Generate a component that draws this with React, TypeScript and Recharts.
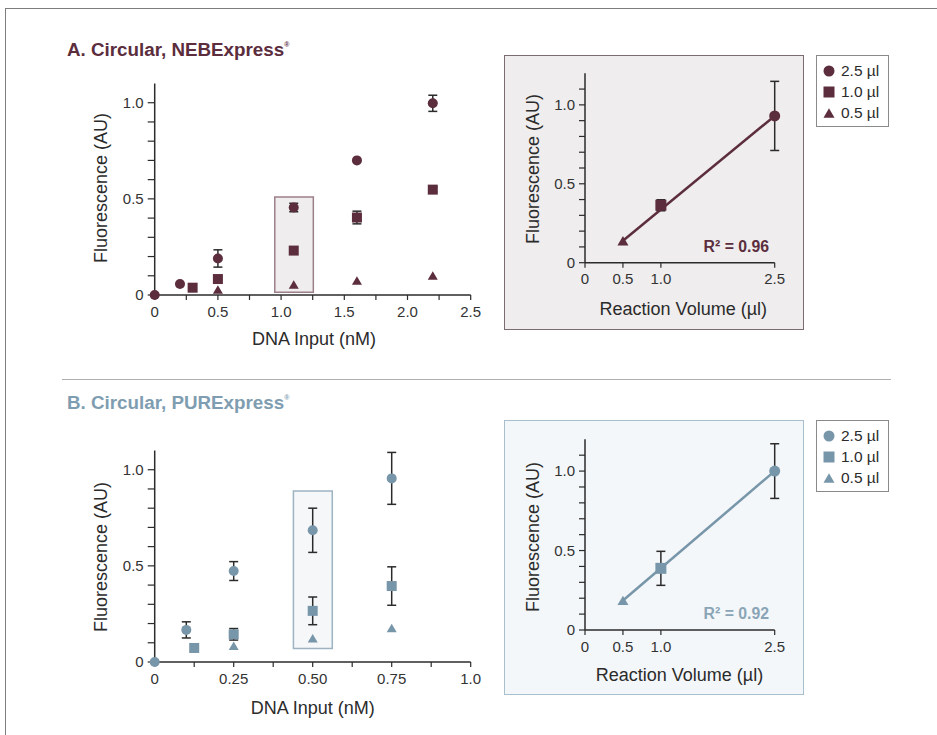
import React from "react";
import { ScatterChart, Scatter, XAxis, YAxis, ErrorBar, ReferenceArea, Legend } from "recharts";

const MAROON = "#5b2d3d";
const SLATE = "#7896a9";
const INK = "#2b2b2b";
const FONT = "'Liberation Sans', Arial, Helvetica, sans-serif";

// series names (shared by all four plots)
const volumes = ["2.5 µl", "1.0 µl", "0.5 µl"];

// A. NEBExpress – fluorescence vs DNA input (nM)
const nebCircle = [
  { x: 0, y: 0, err: 0 },
  { x: 0.2, y: 0.057, err: 0 },
  { x: 0.5, y: 0.19, err: 0.045 },
  { x: 1.1, y: 0.455, err: 0.022 },
  { x: 1.6, y: 0.7, err: 0 },
  { x: 2.2, y: 0.997, err: 0.042 },
];
const nebSquare = [
  { x: 0.3, y: 0.038, err: 0 },
  { x: 0.5, y: 0.083, err: 0 },
  { x: 1.1, y: 0.231, err: 0 },
  { x: 1.6, y: 0.403, err: 0.033 },
  { x: 2.2, y: 0.548, err: 0.012 },
];
const nebTriangle = [
  { x: 0.5, y: 0.028 },
  { x: 1.1, y: 0.055 },
  { x: 1.6, y: 0.075 },
  { x: 2.2, y: 0.102 },
];

// A. NEBExpress – fluorescence vs reaction volume (µl)
const nebVolCircle = [{ x: 2.5, y: 0.93, err: 0.219 }];
const nebVolSquare = [{ x: 1.0, y: 0.364, err: 0.035 }];
const nebVolTriangle = [{ x: 0.5, y: 0.139 }];
const nebFit = [
  { x: 0.5, y: 0.139 },
  { x: 2.5, y: 0.93 },
];

// B. PURExpress – fluorescence vs DNA input (nM)
const purCircle = [
  { x: 0, y: 0, err: 0 },
  { x: 0.1, y: 0.167, err: 0.042 },
  { x: 0.25, y: 0.473, err: 0.049 },
  { x: 0.5, y: 0.685, err: 0.115 },
  { x: 0.75, y: 0.955, err: 0.135 },
];
const purSquare = [
  { x: 0.125, y: 0.073, err: 0 },
  { x: 0.25, y: 0.144, err: 0.03 },
  { x: 0.5, y: 0.266, err: 0.072 },
  { x: 0.75, y: 0.395, err: 0.1 },
];
const purTriangle = [
  { x: 0.25, y: 0.085 },
  { x: 0.5, y: 0.123 },
  { x: 0.75, y: 0.177 },
];

// B. PURExpress – fluorescence vs reaction volume (µl)
const purVolCircle = [{ x: 2.5, y: 1.0, err: 0.172 }];
const purVolSquare = [{ x: 1.0, y: 0.388, err: 0.107 }];
const purVolTriangle = [{ x: 0.5, y: 0.186 }];
const purFit = [
  { x: 0.5, y: 0.186 },
  { x: 2.5, y: 1.0 },
];

// ticks and their labels
const fluorTicks = [0, 0.1, 0.2, 0.3, 0.4, 0.5, 0.6, 0.7, 0.8, 0.9, 1.0];
const fluorLabels = ["0", "", "", "", "", "0.5", "", "", "", "", "1.0"];
const fluorTicksInset = [0, 0.1, 0.2, 0.3, 0.4, 0.5, 0.6, 0.7, 0.8, 0.9, 1.0, 1.1];
const fluorLabelsInset = ["0", "", "", "", "", "0.5", "", "", "", "", "1.0", ""];
const nebInputTicks = [0, 0.25, 0.5, 0.75, 1.0, 1.25, 1.5, 1.75, 2.0, 2.25, 2.5];
const nebInputLabels = ["0", "", "0.5", "", "1.0", "", "1.5", "", "2.0", "", "2.5"];
const purInputTicks = [0, 0.125, 0.25, 0.375, 0.5, 0.625, 0.75, 0.875, 1.0];
const purInputLabels = ["0", "", "0.25", "", "0.50", "", "0.75", "", "1.0"];
const volTicks = [0, 0.5, 1.0, 2.5];
const volLabels = ["0", "0.5", "1.0", "2.5"];

const labelFor = (ticks: number[], labels: string[]) => (v: number) => {
  const i = ticks.findIndex((t) => Math.abs(t - v) < 1e-9);
  return i >= 0 ? labels[i] : "";
};

const tickStyle = { fill: "#333", fontSize: 15, fontFamily: FONT };

const marker = (kind: string, color: string, s: number) => (p: any) => {
  const { cx, cy } = p;
  if (cx == null || cy == null) return <g />;
  if (kind === "circle") return <circle cx={cx} cy={cy} r={s} fill={color} />;
  if (kind === "square") return <rect x={cx - s} y={cy - s} width={2 * s} height={2 * s} fill={color} />;
  const h = s * 0.85;
  return <polygon points={`${cx},${cy - h} ${cx + s},${cy + h} ${cx - s},${cy + h}`} fill={color} />;
};

const LegendIcon = ({ kind, color }: { kind: string; color: string }) => (
  <svg width={14} height={14} style={{ display: "block" }}>
    {marker(kind, color, 5.5)({ cx: 7, cy: 7 })}
  </svg>
);

const VolumeLegend = ({ payload, color }: any) => {
  const items = [...(payload || [])]
    .filter((p: any) => volumes.includes(p.value))
    .sort((a: any, b: any) => volumes.indexOf(a.value) - volumes.indexOf(b.value));
  return (
    <div
      style={{
        width: 73,
        height: 72,
        boxSizing: "border-box",
        border: "1.2px solid #8a8a8a",
        background: "#fff",
        padding: "4px 0 0 5px",
      }}
    >
      {items.map((p: any) => (
        <div key={p.value} style={{ display: "flex", alignItems: "center", height: 21 }}>
          <LegendIcon kind={p.type} color={color} />
          <span style={{ marginLeft: 5, fontSize: 15.5, color: INK, fontFamily: FONT }}>{p.value}</span>
        </div>
      ))}
    </div>
  );
};

const Text = ({ x, y, children, rotate = false, size = 18, color = INK, bold = false }: any) => (
  <div
    style={{
      position: "absolute",
      left: x,
      top: y,
      transform: `translate(-50%, -50%)${rotate ? " rotate(-90deg)" : ""}`,
      whiteSpace: "nowrap",
      fontSize: size,
      lineHeight: 1,
      color,
      fontWeight: bold ? 700 : 400,
    }}
  >
    {children}
  </div>
);

function InputChart({ top, xMax, xTicks, xLabels, circle, square, triangle, box, color, boxFill, boxStroke }: any) {
  return (
    <div style={{ position: "absolute", left: 0, top }}>
      <ScatterChart width={500} height={345} margin={{ top: 83.5, right: 29.3, bottom: 20, left: 0 }}>
        <XAxis
          type="number"
          dataKey="x"
          domain={[0, xMax]}
          ticks={xTicks}
          interval={0}
          tickFormatter={labelFor(xTicks, xLabels)}
          tick={tickStyle}
          axisLine={{ stroke: INK, strokeWidth: 1.5 }}
          tickLine={{ stroke: INK, strokeWidth: 1.2 }}
          tickSize={5}
          tickMargin={6}
          height={30}
        />
        <YAxis
          type="number"
          dataKey="y"
          domain={[0, 1.1]}
          ticks={fluorTicks}
          interval={0}
          tickFormatter={labelFor(fluorTicks, fluorLabels)}
          tick={tickStyle}
          axisLine={{ stroke: INK, strokeWidth: 1.5 }}
          tickLine={{ stroke: INK, strokeWidth: 1.2 }}
          tickSize={7}
          tickMargin={4}
          width={154.7}
        />
        <ReferenceArea
          x1={box[0]}
          x2={box[1]}
          y1={box[2]}
          y2={box[3]}
          fill={boxFill}
          fillOpacity={1}
          stroke={boxStroke}
          strokeWidth={1.5}
        />
        <Scatter name={volumes[0]} data={circle} fill={color} legendType="circle" shape={marker("circle", color, 5)} isAnimationActive={false}>
          <ErrorBar dataKey="err" direction="y" width={4.5} stroke={INK} strokeWidth={1.5} />
        </Scatter>
        <Scatter name={volumes[1]} data={square} fill={color} legendType="square" shape={marker("square", color, 5)} isAnimationActive={false}>
          <ErrorBar dataKey="err" direction="y" width={4.5} stroke={INK} strokeWidth={1.5} />
        </Scatter>
        <Scatter name={volumes[2]} data={triangle} fill={color} legendType="triangle" shape={marker("triangle", color, 5)} isAnimationActive={false} />
      </ScatterChart>
    </div>
  );
}

function VolumeChart({ top, margin, circle, square, triangle, fit, color }: any) {
  return (
    <div style={{ position: "absolute", left: 504, top }}>
      <ScatterChart width={390} height={275} margin={margin}>
        <XAxis
          type="number"
          dataKey="x"
          domain={[0, 2.5]}
          ticks={volTicks}
          interval={0}
          tickFormatter={labelFor(volTicks, volLabels)}
          tick={tickStyle}
          axisLine={{ stroke: INK, strokeWidth: 1.5 }}
          tickLine={{ stroke: INK, strokeWidth: 1.2 }}
          tickSize={5}
          tickMargin={6}
          height={30}
        />
        <YAxis
          type="number"
          dataKey="y"
          domain={[0, 1.2]}
          ticks={fluorTicksInset}
          interval={0}
          tickFormatter={labelFor(fluorTicksInset, fluorLabelsInset)}
          tick={tickStyle}
          axisLine={{ stroke: INK, strokeWidth: 1.5 }}
          tickLine={{ stroke: INK, strokeWidth: 1.2 }}
          tickSize={6}
          tickMargin={4}
          width={81}
        />
        <Scatter data={fit} legendType="none" line={{ stroke: color, strokeWidth: 2.5 }} shape={() => <g />} isAnimationActive={false} />
        <Scatter name={volumes[0]} data={circle} fill={color} legendType="circle" shape={marker("circle", color, 5.5)} isAnimationActive={false}>
          <ErrorBar dataKey="err" direction="y" width={4.5} stroke={INK} strokeWidth={1.5} />
        </Scatter>
        <Scatter name={volumes[1]} data={square} fill={color} legendType="square" shape={marker("square", color, 5.5)} isAnimationActive={false}>
          <ErrorBar dataKey="err" direction="y" width={4.5} stroke={INK} strokeWidth={1.5} />
        </Scatter>
        <Scatter name={volumes[2]} data={triangle} fill={color} legendType="triangle" shape={marker("triangle", color, 5.5)} isAnimationActive={false} />
        <Legend
          layout="horizontal"
          verticalAlign="middle"
          align="center"
          wrapperStyle={{ left: 312, top: 0, width: 73, height: 72 }}
          content={(props: any) => <VolumeLegend {...props} color={color} />}
        />
      </ScatterChart>
    </div>
  );
}

export default function App() {
  return (
    <div
      style={{
        position: "absolute",
        left: 0,
        top: 0,
        width: 937,
        height: 735,
        overflow: "hidden",
        background: "#fff",
        fontFamily: FONT,
        color: INK,
      }}
    >
      {/* frame and divider */}
      <div style={{ position: "absolute", left: 5, top: 7.5, width: 950, height: 750, borderLeft: "1.5px solid #7d7d7d", borderTop: "1.5px solid #7d7d7d" }} />
      <div style={{ position: "absolute", left: 62, top: 378.5, width: 829, height: 0, borderTop: "1.5px solid #b0b0b0" }} />

      {/* panel titles */}
      <div style={{ position: "absolute", left: 67, top: 34, fontSize: 18.8, lineHeight: "22px", fontWeight: 700, color: MAROON, whiteSpace: "nowrap" }}>
        A. Circular, NEBExpress<sup style={{ fontSize: 7, verticalAlign: "9px" }}>®</sup>
      </div>
      <div style={{ position: "absolute", left: 67, top: 387.3, fontSize: 18.8, lineHeight: "22px", fontWeight: 700, color: "#7f9db1", whiteSpace: "nowrap" }}>
        B. Circular, PURExpress<sup style={{ fontSize: 7, verticalAlign: "9px" }}>®</sup>
      </div>

      {/* inset frames */}
      <div style={{ position: "absolute", left: 504, top: 55, width: 300, height: 275, boxSizing: "border-box", background: "#efeded", border: "1.5px solid #7c6c70" }} />
      <div style={{ position: "absolute", left: 504, top: 420, width: 300, height: 275, boxSizing: "border-box", background: "#f4f7f9", border: "1.5px solid #a9bfcd" }} />

      <InputChart
        top={0}
        xMax={2.5}
        xTicks={nebInputTicks}
        xLabels={nebInputLabels}
        circle={nebCircle}
        square={nebSquare}
        triangle={nebTriangle}
        box={[0.95, 1.255, 0.014, 0.51]}
        color={MAROON}
        boxFill="#efedee"
        boxStroke="#9d7f89"
      />
      <InputChart
        top={367}
        xMax={1.0}
        xTicks={purInputTicks}
        xLabels={purInputLabels}
        circle={purCircle}
        square={purSquare}
        triangle={purTriangle}
        box={[0.439, 0.562, 0.07, 0.89]}
        color={SLATE}
        boxFill="#f5f7f9"
        boxStroke="#9db3c2"
      />
      <VolumeChart
        top={55}
        margin={{ top: 18.3, right: 119.3, bottom: 37.3, left: 0 }}
        circle={nebVolCircle}
        square={nebVolSquare}
        triangle={nebVolTriangle}
        fit={nebFit}
        color={MAROON}
      />
      <VolumeChart
        top={420}
        margin={{ top: 19.3, right: 119.3, bottom: 35, left: 0 }}
        circle={purVolCircle}
        square={purVolSquare}
        triangle={purVolTriangle}
        fit={purFit}
        color={SLATE}
      />

      {/* axis titles */}
      <Text x={100.5} y={188.3} rotate>Fluorescence (AU)</Text>
      <Text x={314} y={339}>DNA Input (nM)</Text>
      <Text x={533.3} y={169.2} rotate>Fluorescence (AU)</Text>
      <Text x={683.3} y={309}>Reaction Volume (µl)</Text>
      <Text x={100.5} y={556.7} rotate>Fluorescence (AU)</Text>
      <Text x={312.7} y={707.5}>DNA Input (nM)</Text>
      <Text x={533.3} y={536.7} rotate>Fluorescence (AU)</Text>
      <Text x={679.5} y={675}>Reaction Volume (µl)</Text>

      {/* fit quality */}
      <div style={{ position: "absolute", left: 669, top: 238, width: 100, textAlign: "right", fontSize: 15.8, lineHeight: "18px", fontWeight: 700, color: MAROON }}>
        R² = 0.96
      </div>
      <div style={{ position: "absolute", left: 669, top: 605.3, width: 100, textAlign: "right", fontSize: 15.8, lineHeight: "18px", fontWeight: 700, color: "#8aa5b6" }}>
        R² = 0.92
      </div>
    </div>
  );
}
